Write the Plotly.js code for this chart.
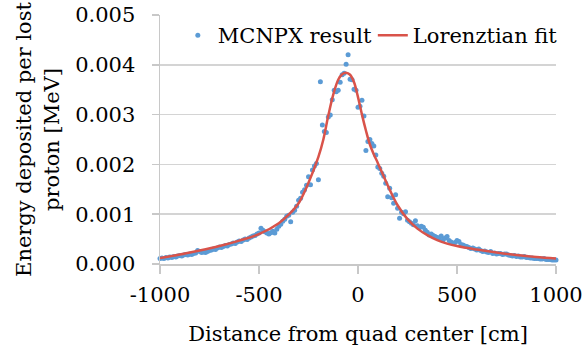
<!DOCTYPE html>
<html>
<head>
<meta charset="utf-8">
<script src="https://cdn.plot.ly/plotly-3.0.1.min.js"></script>
<style>html,body{margin:0;padding:0;background:#fff;}#chart{width:584px;height:351px;}</style>
</head>
<body>
<div id="chart"></div>
<script>
// MCNPX simulation points (distance in cm, energy in MeV)
const mcnpxX = [
-1000,-990,-980,-970,-960,-950,-940,-930,-920,-910,
-900,-890,-880,-870,-860,-850,-840,-830,-820,-810,
-800,-790,-780,-770,-760,-750,-740,-730,-720,-710,
-700,-690,-680,-670,-660,-650,-640,-630,-620,-610,
-600,-590,-580,-570,-560,-550,-540,-530,-520,-510,
-500,-490,-480,-470,-460,-450,-440,-430,-420,-410,
-400,-390,-380,-370,-360,-350,-340,-330,-320,-310,
-300,-290,-280,-270,-260,-250,-240,-230,-220,-210,
-200,-190,-180,-170,-160,-150,-140,-130,-120,-110,
-100,-90,-80,-70,-60,-50,-40,-30,-20,-10,
0,10,20,30,40,50,60,70,80,90,
100,110,120,130,140,150,160,170,180,190,
200,210,220,230,240,250,260,270,280,290,
300,310,320,330,340,350,360,370,380,390,
400,410,420,430,440,450,460,470,480,490,
500,510,520,530,540,550,560,570,580,590,
600,610,620,630,640,650,660,670,680,690,
700,710,720,730,740,750,760,770,780,790,
800,810,820,830,840,850,860,870,880,890,
900,910,920,930,940,950,960,970,980,990,
1000];
const mcnpxY = [
0.00011,0.00012,0.00011,0.00013,0.00012,0.00014,0.00013,0.00015,0.00014,0.00016,
0.00017,0.00016,0.00018,0.00019,0.00018,0.00020,0.00019,0.00021,0.00022,0.00027,
0.00025,0.00023,0.00024,0.00023,0.00025,0.00027,0.00028,0.00030,0.00029,0.00032,
0.00034,0.00033,0.00035,0.00037,0.00036,0.00039,0.00040,0.00042,0.00041,0.00044,
0.00046,0.00045,0.00048,0.00050,0.00049,0.00052,0.00054,0.00056,0.00057,0.00060,
0.00062,0.00072,0.00068,0.00065,0.00062,0.00060,0.00063,0.00066,0.00062,0.00070,
0.00076,0.00080,0.00086,0.00090,0.00096,0.00098,0.00085,0.00104,0.00108,0.00116,
0.00128,0.00132,0.00144,0.00149,0.00158,0.00175,0.00159,0.00189,0.00197,0.00202,
0.00169,0.00366,0.00279,0.00266,0.00264,0.00295,0.00299,0.00330,0.00349,0.00346,
0.00349,0.00365,0.00380,0.00383,0.00401,0.00420,0.00371,0.00370,0.00351,0.00349,
0.00315,0.00317,0.00329,0.00297,0.00228,0.00246,0.00250,0.00242,0.00237,0.00219,
0.00195,0.00192,0.00182,0.00176,0.00162,0.00135,0.00152,0.00133,0.00122,0.00139,
0.00112,0.00092,0.00104,0.00101,0.00105,0.00088,0.00085,0.00082,0.00079,0.00087,
0.00077,0.00073,0.00076,0.00074,0.00068,0.00064,0.00058,0.00060,0.00057,0.00055,
0.00053,0.00052,0.00056,0.00048,0.00052,0.00055,0.00047,0.00044,0.00041,0.00043,
0.00047,0.00045,0.00039,0.00038,0.00036,0.00035,0.00033,0.00031,0.00032,0.00030,
0.00028,0.00030,0.00027,0.00025,0.00026,0.00024,0.00023,0.00025,0.00021,0.00022,
0.00020,0.00021,0.00021,0.00019,0.00020,0.00020,0.00018,0.00017,0.00016,0.00017,
0.00015,0.00016,0.00014,0.00014,0.00015,0.00013,0.00013,0.00012,0.00012,0.00011,
0.00011,0.00011,0.00010,0.00010,0.00011,0.00009,0.00009,0.00009,0.00008,0.00008,
0.00008];

// Lorentzian fit curve
const fitX = [-1000,-900,-800,-700,-600,-500,-400,-350,-300,-250,-200,-175,-150,-125,-100,-80,-60,-40,-20,0,20,40,60,80,100,150,200,250,300,350,400,450,500,600,700,800,900,1000];
const fitY = [0.00012,0.00019,0.00027,0.00036,0.00047,0.00060,0.00082,0.00099,0.00122,0.00163,0.00215,0.00250,0.00298,0.00340,0.00370,0.00381,0.00384,0.00380,0.00365,0.00335,0.00300,0.00268,0.00240,0.00220,0.00203,0.00158,0.00118,0.00090,0.00071,0.00058,0.00048,0.00041,0.00036,0.00029,0.00023,0.00018,0.00014,0.00011];

const xTickVals = [-1000,-500,0,500,1000];
const xTickText = ["-1000","-500","0","500","1000"];
const yTickVals = [0,0.001,0.002,0.003,0.004,0.005];
const yTickText = ["0.000","0.001","0.002","0.003","0.004","0.005"];

const FONT = 'DejaVu Serif';
const FS = 21;

const traces = [
  {x: mcnpxX, y: mcnpxY, type: 'scatter', mode: 'markers', name: 'MCNPX result',
   marker: {color: '#5B9BD5', size: 5, symbol: 'circle'}, cliponaxis: false},
  {x: fitX, y: fitY, type: 'scatter', mode: 'lines', name: 'Lorenztian fit',
   line: {color: '#D9534A', width: 2.5, shape: 'spline', smoothing: 1.0}}
];

const layout = {
  width: 584, height: 351,
  margin: {l: 160, r: 28, t: 15, b: 87},
  paper_bgcolor: '#ffffff', plot_bgcolor: '#ffffff',
  font: {family: FONT, size: FS, color: '#000000'},
  showlegend: true,
  legend: {orientation: 'h', x: 0.045, y: 1.0, xanchor: 'left', yanchor: 'top',
           bgcolor: 'rgba(0,0,0,0)', font: {family: FONT, size: FS, color: '#000'},
           itemwidth: 30, tracegroupgap: 0, entrywidth: 150, entrywidthmode: 'pixels'},
  xaxis: {range: [-1000, 1000], tickmode: 'array', tickvals: xTickVals, ticktext: xTickText,
          showgrid: false, zeroline: false, showline: true, linecolor: '#c8c8c8', linewidth: 1.5,
          ticks: 'outside', ticklen: 8, tickcolor: '#c8c8c8', tickwidth: 1.5,
          ticklabelstandoff: 3,
          tickfont: {family: FONT, size: FS, color: '#000'},
          title: {text: 'Distance from quad center [cm]', font: {family: FONT, size: FS, color: '#000'}, standoff: 20}},
  yaxis: {range: [0, 0.005], tickmode: 'array', tickvals: yTickVals, ticktext: yTickText,
          showgrid: true, gridcolor: '#d4d4d4', gridwidth: 1.5, zeroline: false,
          showline: true, linecolor: '#c8c8c8', linewidth: 1.5,
          ticks: 'outside', ticklen: 7, tickcolor: '#c8c8c8', tickwidth: 1.5,
          ticklabelstandoff: 12,
          tickfont: {family: FONT, size: FS, color: '#000'},
          title: {text: 'Energy deposited per lost<br>proton [MeV]', font: {family: FONT, size: FS, color: '#000'}, standoff: 10}}
};

Plotly.newPlot('chart', traces, layout, {staticPlot: true, displayModeBar: false});
</script>
</body>
</html>
